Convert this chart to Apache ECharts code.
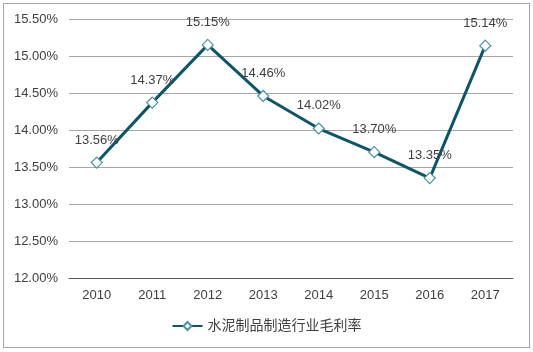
<!DOCTYPE html>
<html>
<head>
<meta charset="utf-8">
<script src="https://cdn.jsdelivr.net/npm/echarts@6/dist/echarts.min.js"></script>
<style>
  html, body { margin: 0; padding: 0; background: #fff; }
  #box { position: absolute; left: 3px; top: 3px; width: 525px; height: 343px; border: 1px solid #a6a6a6; }
  #chart { width: 533px; height: 352px; position: absolute; left: 0; top: 0; }
</style>
</head>
<body>
<div id="box"></div>
<div id="chart"></div>
<script>
  // 年份
  var years = ['2010', '2011', '2012', '2013', '2014', '2015', '2016', '2017'];
  // 水泥制品制造行业毛利率 (%)
  var margin = [13.56, 14.37, 15.15, 14.46, 14.02, 13.70, 13.35, 15.14];
  var seriesName = '水泥制品制造行业毛利率';

  var chart = echarts.init(document.getElementById('chart'));
  var font = 'Liberation Sans, Arial, Noto Sans CJK SC, sans-serif';

  chart.setOption({
    animation: false,
    grid: { left: 69, right: 20, top: 19, bottom: 74, containLabel: false },
    xAxis: {
      type: 'category',
      data: years,
      boundaryGap: true,
      axisLine: { lineStyle: { color: '#595959', width: 1 } },
      axisTick: { show: false },
      axisLabel: { color: '#404040', fontSize: 13, fontFamily: font, margin: 11 }
    },
    yAxis: {
      type: 'value',
      min: 12,
      max: 15.5,
      interval: 0.5,
      axisLine: { show: false },
      axisTick: { show: false },
      splitLine: { lineStyle: { color: '#a6a6a6', width: 1 } },
      axisLabel: {
        color: '#404040', fontSize: 13, fontFamily: font, margin: 11,
        formatter: function (v) { return v.toFixed(2) + '%'; }
      }
    },
    legend: {
      bottom: 14,
      left: 'center',
      itemWidth: 30,
      itemHeight: 10,
      itemGap: 4,
      textStyle: { color: '#404040', fontSize: 14, fontFamily: font },
      data: [seriesName]
    },
    series: [{
      name: seriesName,
      type: 'line',
      data: margin,
      symbol: 'diamond',
      symbolSize: 11,
      lineStyle: { color: '#0e5568', width: 3 },
      itemStyle: { color: '#ffffff', borderColor: '#4d8ea3', borderWidth: 1.2 },
      label: {
        show: true,
        position: 'top',
        distance: 10,
        color: '#404040',
        fontSize: 13,
        fontFamily: font,
        formatter: function (p) { return p.value.toFixed(2) + '%'; }
      }
    }]
  });
</script>
</body>
</html>
